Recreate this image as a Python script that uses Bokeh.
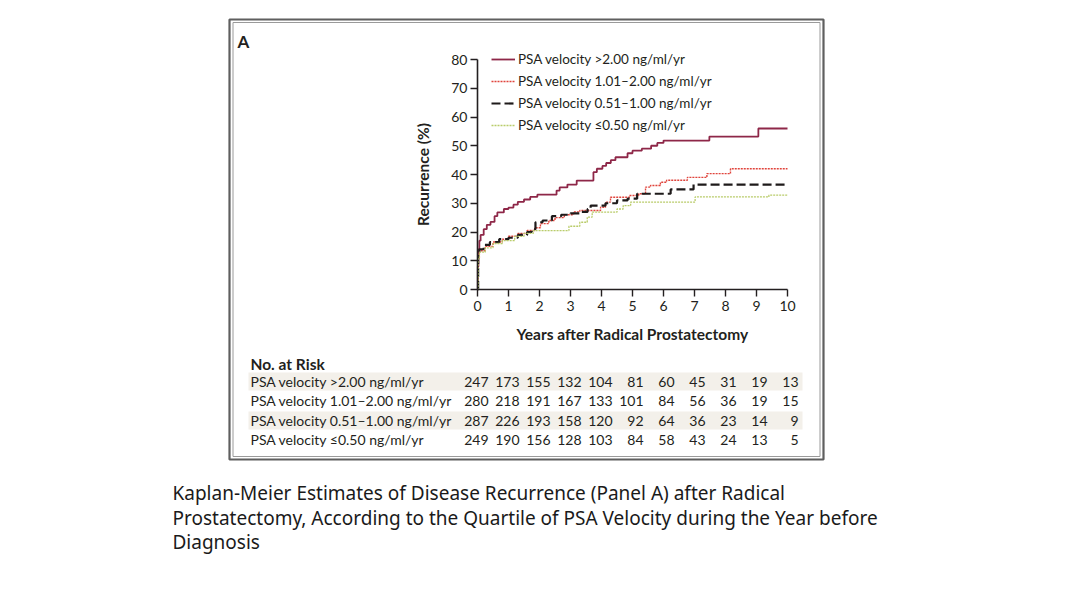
from bokeh.plotting import figure
from bokeh.models import Range1d, LinearAxis, Legend, LegendItem, FixedTicker
from bokeh.core.properties import value
from bokeh.embed import file_html
from bokeh.resources import INLINE

# ---------------- data ----------------
series_labels = [
    "PSA velocity >2.00 ng/ml/yr",
    "PSA velocity 1.01\u20132.00 ng/ml/yr",
    "PSA velocity 0.51\u20131.00 ng/ml/yr",
    "PSA velocity \u22640.50 ng/ml/yr",
]

# Kaplan-Meier step curves (years, recurrence %)
t_gt200 = [0, 0.01, 0.03, 0.06, 0.1, 0.2, 0.3, 0.42, 0.55, 0.64, 0.85, 1.0, 1.16, 1.3, 1.5, 1.7, 1.93,
           2.55, 2.65, 2.9, 3.2, 3.74, 3.85, 4.03, 4.15, 4.3, 4.45, 4.84, 5.0, 5.3, 5.6, 5.8, 6.0, 7.48, 9.06, 10]
r_gt200 = [0, 8, 14, 17, 19, 21, 22.5, 23.5, 25.5, 26.8, 28, 28.5, 29.5, 30.5, 31.3, 32.2, 33,
           34.4, 35.5, 36.5, 37.9, 40.8, 42, 43, 44, 45, 46, 47.4, 48.3, 49, 50, 51, 51.8, 53.2, 56, 56]

t_101_200 = [0, 0.02, 0.06, 0.25, 0.5, 0.8, 1.0, 1.3, 1.6, 1.85, 2.03, 2.3, 2.5, 2.8, 3.1, 3.3, 3.97,
             4.13, 4.29, 4.9, 5.2, 5.42, 5.58, 5.9, 6.1, 6.77, 7.4, 8.16, 10]
r_101_200 = [0, 11, 13.5, 15, 16.5, 17.5, 18.5, 19.5, 20.5, 21.5, 22.9, 24, 25, 26, 27, 27.5, 28.6,
             30.4, 32.1, 32.7, 33.3, 35.6, 36.2, 37.3, 38, 39, 40.3, 42, 42]

t_051_100 = [0, 0.02, 0.06, 0.2, 0.4, 0.7, 1.0, 1.3, 1.6, 1.75, 1.87, 2.1, 2.4, 2.7, 3.0, 3.3, 3.55,
             3.65, 4.13, 4.5, 4.84, 5.15, 6.23, 6.97, 10]
r_051_100 = [0, 12, 14, 15.5, 16.5, 17.5, 18, 19, 20, 21, 23.4, 24, 25.5, 26, 26.5, 27, 28,
             29.2, 30, 31, 31.6, 33.3, 34.8, 36.5, 36.5]

t_le050 = [0, 0.02, 0.06, 0.25, 0.5, 0.8, 1.2, 1.5, 1.8, 2.95, 3.3, 3.54, 3.7, 4.5, 4.7, 4.94, 7.02, 9.4, 10]
r_le050 = [0, 11, 13, 14.5, 16, 17, 18.5, 19.5, 20.5, 22, 23.4, 25.2, 26.9, 28, 29.2, 30.4, 32.2, 32.8, 32.8]

# number at risk
risk_years = [0, 1, 2, 3, 4, 5, 6, 7, 8, 9, 10]
risk_gt200 = [247, 173, 155, 132, 104, 81, 60, 45, 31, 19, 13]
risk_101_200 = [280, 218, 191, 167, 133, 101, 84, 56, 36, 19, 15]
risk_051_100 = [287, 226, 193, 158, 120, 92, 64, 36, 23, 14, 9]
risk_le050 = [249, 190, 156, 128, 103, 84, 58, 43, 24, 13, 5]

x_ticks = [0, 1, 2, 3, 4, 5, 6, 7, 8, 9, 10]
y_ticks = [0, 10, 20, 30, 40, 50, 60, 70, 80]

caption_lines = [
    "Kaplan-Meier Estimates of Disease Recurrence (Panel A) after Radical",
    "Prostatectomy, According to the Quartile of PSA Velocity during the Year before",
    "Diagnosis",
]

# ---------------- layout (page pixels) ----------------
W, H, M = 1064, 592, 0
AX_X0, AX_X1 = 477, 787      # x=0 and x=10
AX_Y0, AX_Y1 = 289, 59       # y=0 and y=80
px_per_x = (AX_X1 - AX_X0) / 10.0
px_per_y = (AX_Y0 - AX_Y1) / 80.0

FONT = "Lato"
INK = "#231f20"

p = figure(width=W, height=H,
           x_range=Range1d((M - AX_X0) / px_per_x, (M + W - AX_X0) / px_per_x),
           y_range=Range1d((AX_Y0 - (M + H)) / px_per_y, (AX_Y0 - M) / px_per_y),
           x_axis_type=None, y_axis_type=None,
           output_backend="svg", toolbar_location=None, min_border=0)
p.outline_line_color = None
p.background_fill_color = "white"
p.border_fill_color = "white"
p.extra_x_ranges = {"px": Range1d(M, M + W)}
p.extra_y_ranges = {"px": Range1d(M + H, M)}

# panel frame (double border) and table stripes
p.quad(left=[229], right=[823], top=[19], bottom=[459], fill_alpha=0, line_color="#5f5f5f", line_width=2.2,
       x_range_name="px", y_range_name="px")
p.quad(left=[232.5], right=[819.5], top=[22], bottom=[456], fill_alpha=0, line_color="#9a9a9a", line_width=1,
       x_range_name="px", y_range_name="px")
p.quad(left=[248, 248], right=[802, 802], top=[372, 411], bottom=[390, 429], fill_color="#f3f0ea",
       line_color=None, x_range_name="px", y_range_name="px")

# axes
xaxis = LinearAxis(fixed_location=0, bounds=(0, 10), ticker=FixedTicker(ticks=x_ticks),
                   axis_label="Years after Radical Prostatectomy")
yaxis = LinearAxis(fixed_location=0, bounds=(0, 80), ticker=FixedTicker(ticks=y_ticks),
                   axis_label="Recurrence (%)")
for ax in (xaxis, yaxis):
    ax.major_tick_in = 0
    ax.major_tick_out = 7
    ax.minor_tick_in = 0
    ax.minor_tick_out = 0
    ax.axis_line_color = INK
    ax.axis_line_width = 1.6
    ax.major_tick_line_color = INK
    ax.major_tick_line_width = 1.4
    ax.major_label_text_font = FONT
    ax.major_label_text_font_size = "14px"
    ax.major_label_text_color = INK
    ax.axis_label_text_font = FONT
    ax.axis_label_text_font_style = "bold"
    ax.axis_label_text_font_size = "15.5px"
    ax.axis_label_text_color = INK
xaxis.major_label_standoff = 4
xaxis.axis_label_standoff = 11
yaxis.major_label_standoff = 3
yaxis.axis_label_standoff = 16
p.add_layout(xaxis, "below")
p.add_layout(yaxis, "left")

# curves
r1 = p.step(t_gt200, r_gt200, mode="after", line_color="#8e2748", line_width=1.8)
r2 = p.step(t_101_200, r_101_200, mode="after", line_color="#e0443c", line_width=1.4, line_dash="2 1")
r3 = p.step(t_051_100, r_051_100, mode="after", line_color="#1e1a1a", line_width=2.2, line_dash="9 4")
r4 = p.step(t_le050, r_le050, mode="after", line_color="#b9cc6a", line_width=1.3, line_dash="2 1")

legend = Legend(items=[LegendItem(label=series_labels[i], renderers=[r]) for i, r in enumerate([r1, r2, r3, r4])],
                location=(491, 457), orientation="vertical")
legend.label_text_font = FONT
legend.label_text_font_size = "13.5px"
legend.label_text_color = INK
legend.glyph_width = 24
legend.glyph_height = 20
legend.label_height = 20
legend.spacing = 2
legend.padding = 0
legend.margin = 0
legend.label_standoff = 3
legend.border_line_color = None
legend.background_fill_alpha = 0
p.add_layout(legend)

# panel letter
p.text(x=[237], y=[41], text=["A"], x_range_name="px", y_range_name="px",
       text_font=value(FONT), text_font_style="bold", text_font_size="17px",
       text_baseline="middle", text_color=INK)

# number at risk table
p.text(x=[250], y=[363], text=["No. at Risk"], x_range_name="px", y_range_name="px",
       text_font=value(FONT), text_font_style="bold", text_font_size="15.5px",
       text_baseline="middle", text_color=INK)
row_y = [381, 400, 420, 439]
risk_rows = [risk_gt200, risk_101_200, risk_051_100, risk_le050]
p.text(x=[250] * 4, y=row_y, text=series_labels, x_range_name="px", y_range_name="px",
       text_font=value(FONT), text_font_size="14px", text_baseline="middle", text_color=INK)
for ry, counts in zip(row_y, risk_rows):
    p.text(x=risk_years, y=[ry] * len(risk_years), text=[str(c) for c in counts],
           y_range_name="px", x_offset=11,
           text_font=value(FONT), text_font_size="14px", text_baseline="middle",
           text_align="right", text_color=INK)

# caption
p.text(x=[172] * 3, y=[492, 517, 541], text=caption_lines, x_range_name="px", y_range_name="px",
       text_font=value("Noto Sans"), text_font_size="19px", text_baseline="middle", text_color="#1a1a1a")

open("out.html", "w").write(file_html(p, INLINE))
